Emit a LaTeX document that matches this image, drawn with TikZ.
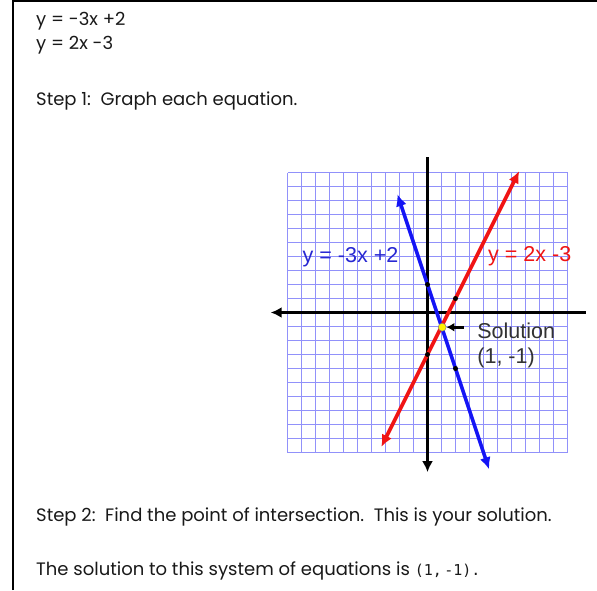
\documentclass[tikz,border=0pt]{standalone}
\usepackage{fontspec}
\setmainfont{Poppins}
\newfontfamily\arialf{Liberation Sans}
\newfontfamily\monof{DejaVu Sans Mono}
\usetikzlibrary{arrows.meta}
\definecolor{gridc}{RGB}{145,145,250}
\definecolor{lineblue}{RGB}{20,20,245}
\definecolor{linered}{RGB}{240,20,20}
\definecolor{lblblue}{RGB}{40,40,210}
\tikzset{
  txt/.style={anchor=west, inner sep=0pt, font=\fontsize{18}{21}\selectfont, text=black!90},
  glabel/.style={inner sep=0pt, font=\arialf\fontsize{21.5}{24}\selectfont},
  axis/.style={line width=3.6pt, -{Latex[length=11pt,width=11pt]}, {Latex[length=11pt,width=11pt]}-},
  gline/.style={line width=3.6pt, {Latex[length=12pt,width=11pt]}-{Latex[length=12pt,width=11pt]}},
  ptdot/.style={circle, fill=black, inner sep=0pt, minimum size=5pt},
  gridline/.style={gridc, line width=1pt},
}
\begin{document}
\begin{tikzpicture}[x=1pt,y=1pt]
\useasboundingbox (0,0) rectangle (597,-590);
\fill[white] (0,0) rectangle (597,-590);
% frame
\draw[line width=2pt] (13,-590) -- (13,-1.4) -- (597,-1.4);
% texts
\node[txt] (eq1) at (36,-21) {y = -3x +2};
\node[txt] (eq2) at (36,-45) {y = 2x -3};
\node[txt] (s1) at (36,-101) {Step 1:\ \ Graph each equation.};
\node[txt] (s2) at (36,-517) {Step 2:\ \ Find the point of intersection.\ \ This is your solution.};
\node[txt] (s3) at (36,-571) {The solution to this system of equations is \monof\fontsize{15}{17}\selectfont (1,\,-1).};
% graph
\begin{scope}[shift={(427.5,-312.5)}, x=14pt, y=14pt]
  \foreach \i in {-10,...,10} {
    \draw[gridline] (\i,-10) -- (\i,10);
    \draw[gridline] (-10,\i) -- (10,\i);
  }
  \coordinate (xl) at (-11.2,0);
  \coordinate (xr) at (11.3,0);
  \coordinate (yb) at (0,-11.4);
  \coordinate (yt) at (0,11.1);
  \draw[axis] (xl) -- (xr);
  \draw[axis] (yb) -- (yt);
  \coordinate (b1) at (-2.15,8.45);
  \coordinate (b2) at (4.4,-11.2);
  \coordinate (r1) at (-3.3,-9.6);
  \coordinate (r2) at (6.55,10.1);
  \draw[gline, lineblue] (b1) -- (b2);
  \draw[gline, linered] (r1) -- (r2);
  \node[ptdot] (d1) at (0,2) {};
  \node[ptdot] (d2) at (2,1) {};
  \node[ptdot] (d3) at (0,-3) {};
  \node[ptdot] (d4) at (2,-4) {};
  \node[circle, fill=yellow, draw=black!50, line width=0.5pt, inner sep=0pt, minimum size=8pt] (sol) at (1.05,-1.05) {};
  \node[glabel, text=lblblue] (lb) at (-5.5,3.95) {y = -3x +2};
  \node[glabel, text=linered] (lr) at (7.3,4) {y = 2x -3};
  \node[glabel, anchor=west, text=black!80] (ls) at (3.55,-1.3) {Solution};
  \node[glabel, anchor=west, text=black!80] (lc) at (3.55,-3.25) {(1, -1)};
  \coordinate (at) at (2.6,-1.05);
  \draw[line width=2.8pt, -{Latex[length=8pt,width=9pt]}] (at) -- (sol);
\end{scope}
\end{tikzpicture}
\end{document}
